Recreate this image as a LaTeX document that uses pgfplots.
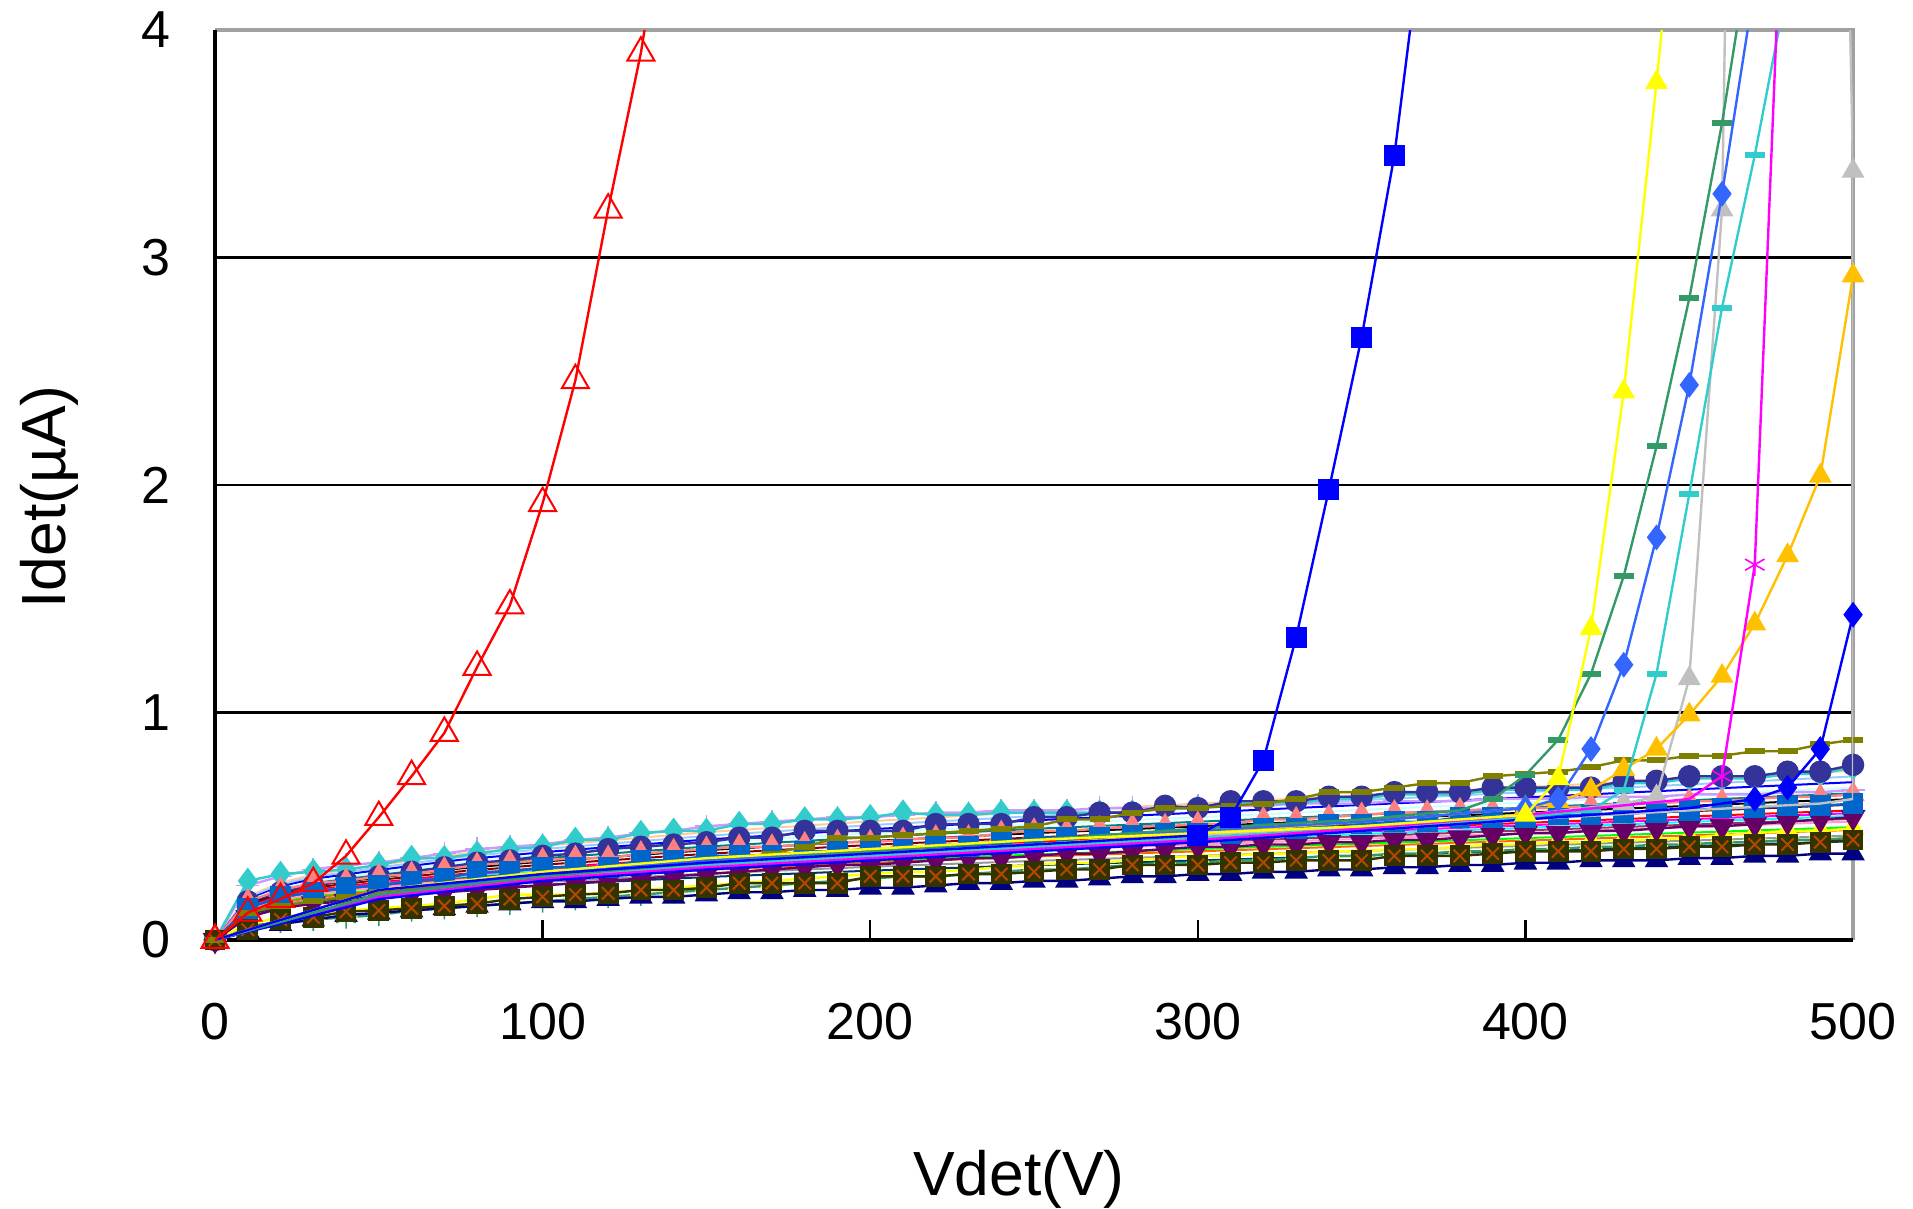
\documentclass[border=0pt]{standalone}
\usepackage{fontspec}
\setmainfont{Liberation Sans}
\usepackage{pgfplots}
\usepackage{pgfplotstable}
\pgfplotsset{compat=1.18}

\definecolor{cTeal}{HTML}{33CCCC}
\definecolor{cLav}{HTML}{CC99FF}
\definecolor{cNavy}{HTML}{333399}
\definecolor{cBlue}{HTML}{0066CC}
\definecolor{cSalmon}{HTML}{FF8080}
\definecolor{cPurple}{HTML}{660066}
\definecolor{cYel}{HTML}{FFFF00}
\definecolor{cGreen}{HTML}{339966}
\definecolor{cNavyTri}{HTML}{000080}
\definecolor{cDark}{HTML}{333300}
\definecolor{cBrown}{HTML}{B34700}
\definecolor{cOlive}{HTML}{808000}
\definecolor{cPure}{HTML}{0000FF}
\definecolor{cRoyal}{HTML}{3366FF}
\definecolor{cSilver}{HTML}{C0C0C0}
\definecolor{cOrange}{HTML}{FFC000}
\definecolor{cMag}{HTML}{FF00FF}
\definecolor{cRed}{HTML}{FF0000}
\definecolor{frameGray}{HTML}{A0A0A0}

% devices with markers, every 10 V
\pgfplotstableread{
V   teal lav  navy blue salmon purple yel  green navytri dark  olive
0   0    0    0    0    0      0      0    0     0       0     0
10  .26  .24  .17  .14  .17    .10    .07  .06   .04     .045  .12
20  .29  .28  .21  .19  .22    .14    .10  .08   .07     .09   .15
30  .30  .31  .24  .21  .25    .16    .12  .09   .09     .10   .17
40  .31  .33  .26  .23  .26    .17    .13  .10   .11     .125  .19
50  .33  .34  .28  .24  .28    .19    .14  .11   .12     .13   .21
60  .36  .36  .30  .26  .29    .20    .15  .13   .13     .14   .22
70  .36  .38  .32  .27  .31    .21    .16  .14   .14     .15   .24
80  .38  .40  .34  .30  .33    .22    .18  .15   .15     .16   .25
90  .40  .41  .35  .30  .34    .23    .20  .16   .16     .18   .26
100 .41  .42  .37  .32  .35    .24    .20  .17   .17     .19   .28
110 .44  .44  .38  .32  .36    .25    .20  .18   .17     .20   .29
120 .44  .45  .40  .32  .36    .26    .21  .19   .18     .205  .30
130 .47  .47  .41  .35  .38    .27    .22  .20   .19     .22   .31
140 .48  .48  .42  .35  .39    .28    .23  .21   .19     .22   .33
150 .48  .50  .43  .37  .40    .29    .24  .22   .20     .23   .34
160 .51  .51  .45  .37  .41    .30    .25  .23   .21     .25   .36
170 .51  .52  .45  .37  .41    .31    .26  .24   .21     .25   .38
180 .53  .53  .48  .39  .42    .32    .27  .25   .22     .25   .41
190 .53  .54  .48  .39  .43    .33    .28  .26   .22     .25   .45
200 .54  .54  .48  .40  .43    .33    .29  .27   .23     .28   .45
210 .56  .55  .48  .40  .44    .34    .30  .28   .23     .28   .46
220 .55  .56  .51  .41  .45    .35    .30  .28   .24     .28   .47
230 .55  .56  .51  .41  .45    .36    .31  .29   .25     .29   .48
240 .56  .57  .51  .43  .47    .36    .32  .30   .25     .29   .49
250 .56  .57  .54  .45  .48    .37    .33  .31   .26     .30   .50
260 .56  .57  .54  .45  .48    .38    .34  .31   .26     .31   .53
270 .56  .58  .56  .45  .49    .38    .34  .32   .27     .31   .53
280 .56  .58  .56  .46  .50    .39    .35  .33   .28     .33   .56
290 .58  .58  .59  .47  .50    .40    .36  .34   .28     .33   .58
300 .58  .59  .58  .47  .51    .41    .37  .34   .29     .33   .58
310 .60  .59  .61  .47  .51    .41    .37  .35   .29     .34   .59
320 .60  .59  .61  .49  .53    .42    .38  .35   .30     .34   .60
330 .60  .60  .61  .49  .53    .42    .38  .36   .30     .35   .62
340 .62  .60  .63  .51  .54    .43    .39  .37   .31     .35   .65
350 .62  .60  .63  .51  .55    .43    .39  .37   .31     .35   .65
360 .64  .61  .65  .52  .56    .44    .40  .38   .32     .37   .67
370 .64  .61  .65  .52  .56    .44    .40  .38   .32     .37   .69
380 .64  .61  .65  .54  .57    .45    .41  .39   .33     .37   .69
390 .66  .62  .67  .54  .57    .46    .42  .39   .33     .38   .72
400 .66  .62  .67  .54  .58    .47    .42  .40   .34     .39   .73
410 .66  .62  .67  .55  .58    .47    .43  .40   .34     .39   .74
420 .66  .63  .67  .55  .59    .48    .43  .41   .35     .39   .76
430 .69  .63  .70  .56  .60    .48    .44  .41   .35     .40   .79
440 .69  .63  .70  .56  .60    .49    .44  .42   .35     .40   .79
450 .71  .64  .72  .57  .61    .50    .45  .42   .36     .41   .81
460 .71  .64  .72  .58  .61    .50    .46  .43   .36     .41   .81
470 .71  .64  .72  .58  .62    .51    .47  .43   .37     .42   .83
480 .73  .65  .74  .59  .63    .52    .48  .44   .37     .42   .83
490 .73  .65  .74  .59  .63    .53    .48  .44   .38     .43   .86
500 .76  .66  .77  .60  .64    .54    .49  .45   .38     .44   .88
}\band

% thin lines of the rest of the devices
\pgfplotstableread{
V   p    a    b    c    d    e    f    g    h    i    j    k    l    m    n    o
0   0    0    0    0    0    0    0    0    0    0    0    0    0    0    0    0
10  .192 .186 .179 .173 .166 .160 .154 .147 .144 .141 .138 .134 .128 .125 .118 .112
20  .252 .244 .235 .227 .218 .210 .202 .193 .189 .185 .181 .176 .168 .164 .155 .147
30  .288 .278 .269 .259 .250 .240 .230 .221 .216 .211 .206 .202 .192 .187 .178 .168
50  .330 .319 .308 .297 .286 .275 .264 .253 .248 .242 .237 .231 .220 .215 .204 .193
75  .378 .365 .353 .340 .328 .315 .302 .290 .284 .277 .271 .265 .252 .246 .233 .221
100 .414 .400 .386 .373 .359 .345 .331 .317 .311 .304 .297 .290 .276 .269 .255 .242
150 .474 .458 .442 .427 .411 .395 .379 .363 .356 .348 .340 .332 .316 .308 .292 .277
200 .522 .505 .487 .470 .452 .435 .418 .400 .392 .383 .374 .365 .348 .339 .322 .305
250 .564 .545 .526 .508 .489 .470 .451 .432 .423 .414 .404 .395 .376 .367 .348 .329
300 .600 .580 .560 .540 .520 .500 .480 .460 .450 .440 .430 .420 .400 .390 .370 .350
350 .636 .615 .594 .572 .551 .530 .509 .488 .477 .466 .456 .445 .424 .413 .392 .371
400 .672 .650 .627 .605 .582 .560 .538 .515 .504 .493 .482 .470 .448 .437 .414 .392
450 .708 .684 .661 .637 .614 .590 .566 .543 .531 .519 .507 .496 .472 .460 .437 .413
500 .744 .719 .694 .670 .645 .620 .595 .570 .558 .546 .533 .521 .496 .484 .459 .434
}\thin

% devices that break down
\pgfplotstableread{
V I
0 0
10 .12
20 .18
30 .25
40 .37
50 .54
60 .72
70 .91
80 1.20
90 1.47
100 1.92
110 2.46
120 3.21
130 3.90
140 4.8
}\serR
\pgfplotstableread{
V I
0 0
50 .22
100 .29
150 .34
200 .38
250 .42
300 .46
310 .54
320 .79
330 1.33
340 1.98
350 2.65
360 3.45
370 4.6
}\serB
\pgfplotstableread{
V I
0 0
50 .22
100 .30
150 .36
200 .40
250 .44
300 .47
350 .50
400 .55
410 .71
420 1.37
430 2.41
440 3.77
450 5.2
}\serY
\pgfplotstableread{
V I
0 0
50 .20
100 .28
150 .34
200 .39
250 .44
300 .49
350 .53
380 .57
390 .62
400 .725
410 .88
420 1.17
430 1.60
440 2.17
450 2.82
460 3.59
470 4.5
}\serSG
\pgfplotstableread{
V I
0 0
50 .20
100 .29
150 .35
200 .40
250 .44
300 .48
350 .52
400 .58
410 .62
420 .84
430 1.21
440 1.77
450 2.44
460 3.28
470 4.2
}\serRB
\pgfplotstableread{
V I
0 0
50 .20
100 .28
150 .33
200 .37
250 .41
300 .45
350 .49
400 .54
420 .57
430 .66
440 1.17
450 1.96
460 2.78
470 3.45
480 4.2
}\serC
\pgfplotstableread{
V I
0 0
50 .20
100 .28
150 .33
200 .37
250 .41
300 .46
350 .50
400 .55
430 .60
440 .63
450 1.15
460 3.21
470 12
}\serG
\pgfplotstableread{
V I
0 0
50 .19
100 .27
150 .32
200 .36
250 .40
300 .44
350 .48
400 .53
450 .57
490 .60
500 .62
500 3.38
497 5.5
}\serGb
\pgfplotstableread{
V I
0 0
50 .19
100 .27
150 .32
200 .36
250 .40
300 .44
350 .49
400 .55
450 .62
460 .72
470 1.65
480 5.2
}\serM
\pgfplotstableread{
V I
0 0
50 .20
100 .28
150 .33
200 .38
250 .42
300 .47
350 .52
400 .58
410 .61
420 .66
430 .75
440 .84
450 .99
460 1.16
470 1.39
480 1.69
490 2.04
500 2.92
}\serO
\pgfplotstableread{
V I
0 0
50 .18
100 .26
150 .31
200 .35
250 .39
300 .43
350 .48
400 .53
450 .58
470 .62
480 .67
490 .84
500 1.43
}\serBb

\pgfplotsset{
  ln/.style={line width=0.5pt},
  mk/.style={line width=0.6pt, mark options={solid, line width=0.4pt}},
  dash mk/.style={mark=-, mark size=2.5pt, mark options={solid, line width=1.5pt}},
}

\begin{document}
\begin{tikzpicture}
\begin{axis}[
    scale only axis,
    width=409.5pt, height=227.5pt,
    xmin=0, xmax=500, ymin=0, ymax=4,
    xtick={0,100,...,500}, ytick={0,1,...,4},
    xtick pos=left, ytick pos=left,
    tick align=inside, major tick length=5pt,
    tick style={black, line width=0.6pt},
    ymajorgrids, grid style={black, line width=0.55pt},
    axis line style={draw=none},
    clip mode=individual,
    /pgf/number format/assume math mode=true,
    ticklabel style={font=\fontsize{13}{15}\selectfont},
    xticklabel style={yshift=-12.2pt},
    yticklabel style={xshift=-7.7pt},
    xlabel={Vdet(V)}, ylabel={Idet(µA)},
    label style={font=\fontsize{15.6}{18}\selectfont},
    xlabel style={at={(axis description cs:0.4908,-0.2802)}, anchor=base},
    ylabel style={at={(axis description cs:-0.0912,0.4868)}, anchor=base},
]
\coordinate (bl) at (axis cs:-65.63,-1.178);
\coordinate (tr) at (axis cs:518.3,4.1319);

% plot area frame
\draw[frameGray, line width=0.8pt] (axis cs:0,4) -- (axis cs:500,4) -- (axis cs:500,0);
\draw[black, line width=0.8pt] (axis cs:0,4) -- (axis cs:0,0) -- (axis cs:500,0);

% thin lines
\addplot[ln, color={rgb,255:red,255;green,204;blue,153}] table[x=V,y=p]{\thin};
\addplot[ln, color={rgb,255:red,153;green,204;blue,255}] table[x=V,y=a]{\thin};
\addplot[ln, color=cPure] table[x=V,y=b]{\thin};
\addplot[ln, color={rgb,255:red,204;green,255;blue,255}] table[x=V,y=c]{\thin};
\addplot[ln, color={rgb,255:red,0;green,128;blue,128}] table[x=V,y=d]{\thin};
\addplot[ln, color=black] table[x=V,y=e]{\thin};
\addplot[ln, color={rgb,255:red,128;green,0;blue,0}] table[x=V,y=f]{\thin};
\addplot[ln, color=cRed] table[x=V,y=g]{\thin};
\addplot[ln, color=cMag] table[x=V,y=h]{\thin};
\addplot[ln, color={rgb,255:red,0;green,255;blue,255}] table[x=V,y=i]{\thin};
\addplot[ln, color={rgb,255:red,153;green,51;blue,102}] table[x=V,y=j]{\thin};
\addplot[ln, color={rgb,255:red,255;green,153;blue,204}] table[x=V,y=k]{\thin};
\addplot[ln, color={rgb,255:red,0;green,255;blue,0}] table[x=V,y=l]{\thin};
\addplot[ln, color={rgb,255:red,255;green,102;blue,0}] table[x=V,y=m]{\thin};
\addplot[ln, color={rgb,255:red,150;green,150;blue,150}] table[x=V,y=n]{\thin};
\addplot[ln, color={rgb,255:red,0;green,51;blue,102}] table[x=V,y=o]{\thin};

% devices with markers
\addplot[mk, color=cLav, mark=+, mark size=2.9pt] table[x=V,y=lav]{\band};
\addplot[mk, color=cTeal, mark=diamond*, mark size=3pt] table[x=V,y=teal]{\band};
\addplot[mk, color=cNavy, mark=*, mark size=2.6pt] table[x=V,y=navy]{\band};
\addplot[mk, color=cGreen, mark=asterisk, mark size=2.8pt] table[x=V,y=green]{\band};
\addplot[mk, color=cYel, mark=triangle*, mark size=3pt] table[x=V,y=yel]{\band};
\addplot[mk, color=cNavyTri, mark=triangle*, mark size=3pt] table[x=V,y=navytri]{\band};
\addplot[mk, color=cPurple, mark=triangle*, mark size=3pt, mark options={rotate=180}] table[x=V,y=purple]{\band};
\addplot[mk, color=cSalmon, mark=triangle*, mark size=3pt] table[x=V,y=salmon]{\band};
\addplot[mk, color=cBlue, mark=square*, mark size=2.4pt] table[x=V,y=blue]{\band};
\addplot[mk, color=cDark, mark=square*, mark size=2.4pt] table[x=V,y=dark]{\band};
\addplot[color=cBrown, only marks, mark=x, mark size=2.2pt, mark options={line width=0.5pt}] table[x=V,y=dark]{\band};
\addplot[mk, color=cOlive, dash mk] table[x=V,y=olive]{\band};

% devices that break down: line with every point, marks only near the breakdown
\addplot[mk, color=cSilver] table{\serG};
\addplot[color=cSilver, only marks, mark=triangle*, mark size=2.9pt, restrict y to domain=0:4.05, restrict x to domain=420:500] table{\serG};
\addplot[mk, color=cSilver] table{\serGb};
\addplot[color=cSilver, only marks, mark=triangle*, mark size=2.9pt, restrict y to domain=1:4.05] table{\serGb};
\addplot[mk, color=cOrange] table{\serO};
\addplot[color=cOrange, only marks, mark=triangle*, mark size=2.9pt, restrict x to domain=400:500] table{\serO};
\addplot[mk, color=cTeal] table{\serC};
\addplot[color=cTeal, only marks, dash mk, restrict y to domain=0:4.05, restrict x to domain=420:500] table{\serC};
\addplot[mk, color=cMag] table{\serM};
\addplot[color=cMag, only marks, mark=asterisk, mark size=2.8pt, restrict y to domain=0:4.05, restrict x to domain=460:500] table{\serM};
\addplot[mk, color=cPure] table{\serBb};
\addplot[color=cPure, only marks, mark=diamond*, mark size=2.9pt, restrict x to domain=470:500] table{\serBb};
\addplot[mk, color=cRoyal] table{\serRB};
\addplot[color=cRoyal, only marks, mark=diamond*, mark size=2.9pt, restrict y to domain=0:4.05, restrict x to domain=400:500] table{\serRB};
\addplot[mk, color=cGreen] table{\serSG};
\addplot[color=cGreen, only marks, dash mk, restrict y to domain=0:4.05, restrict x to domain=390:500] table{\serSG};
\addplot[mk, color=cYel] table{\serY};
\addplot[color=cYel, only marks, mark=triangle*, mark size=2.9pt, restrict y to domain=0:4.05, restrict x to domain=400:500] table{\serY};
\addplot[mk, color=cPure] table{\serB};
\addplot[color=cPure, only marks, mark=square*, mark size=2.4pt, restrict y to domain=0:4.05, restrict x to domain=300:500] table{\serB};
\addplot[mk, color=cRed] table{\serR};
\addplot[color=cRed, only marks, mark=triangle, mark size=3.9pt, mark options={line width=0.5pt}, restrict y to domain=0:4.05] table{\serR};
\end{axis}
\pgfresetboundingbox
\path[use as bounding box] (bl) rectangle (tr);
\end{tikzpicture}
\end{document}
